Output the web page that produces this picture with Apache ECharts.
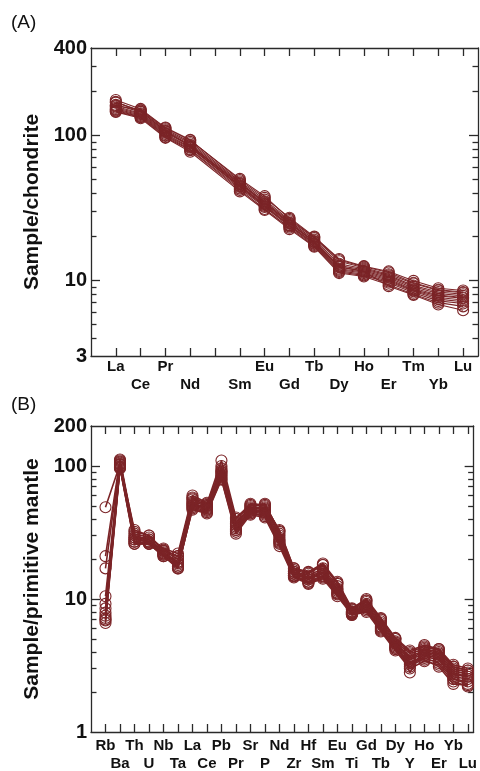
<!DOCTYPE html>
<html>
<head>
<meta charset="utf-8">
<title>REE and trace element patterns</title>
<script src="https://cdn.jsdelivr.net/npm/echarts@6/dist/echarts.min.js"></script>
<style>
  html, body { margin: 0; padding: 0; background: #fff; }
  #chart { width: 480px; height: 771px; }
</style>
</head>
<body>
<div id="chart"></div>
<script>
// (A) chondrite normalised REE, Pm has no value
const reeElements = ['La', 'Ce', 'Pr', 'Nd', '', 'Sm', 'Eu', 'Gd', 'Tb', 'Dy', 'Ho', 'Er', 'Tm', 'Yb', 'Lu'];
const reeSamples = [
  [175, 152, 113, 93, null, 49, 37, 27, 20, 14, 12.5, 11.5, 9.9, 8.8, 8.5],
  [168, 148, 110, 90, null, 48, 36, 26, 19.5, 13.5, 12.2, 11, 9.5, 8.5, 8.2],
  [162, 145, 108, 88, null, 47, 35, 25.5, 19, 13, 12, 10.8, 9.2, 8.3, 8.0],
  [158, 142, 106, 86, null, 46, 34, 25, 18.6, 12.6, 11.8, 10.6, 9.0, 8.1, 7.8],
  [155, 140, 104, 85, null, 45, 33.5, 24.5, 18.3, 12.3, 11.6, 10.4, 8.8, 7.9, 7.6],
  [152, 138, 102, 83, null, 44.5, 33, 24, 18, 12, 11.4, 10.2, 8.6, 7.8, 7.5],
  [150, 136, 100, 82, null, 44, 32.5, 23.8, 17.8, 11.8, 11.2, 10, 8.5, 7.6, 7.3],
  [148, 134, 99, 80, null, 43, 32, 23.5, 17.5, 11.6, 11, 9.8, 8.4, 7.4, 7.1],
  [146, 133, 97, 79, null, 42, 31, 23, 17.2, 11.4, 10.8, 9.6, 8.2, 7.2, 6.9],
  [145, 131, 96, 77, null, 41, 30.5, 22.5, 17, 11.2, 10.6, 9.3, 8.0, 7.0, 6.6],
  [160, 150, 112, 92, null, 50, 38, 26.5, 19.8, 13.8, 12.4, 11.3, 9.6, 8.6, 8.3],
  [170, 146, 107, 84, null, 46.5, 34.5, 24.8, 18.4, 12.4, 11.5, 9.1, 7.9, 6.8, 6.2]
];
const reeLabelTicks = [3, 10, 100, 400];
const reeMajorTicks = [10, 100];
const reeMinorTicks = [4, 5, 6, 7, 8, 9, 20, 30, 40, 50, 60, 70, 80, 90, 200, 300];

// (B) primitive mantle normalised trace elements
const traceElements = ['Rb', 'Ba', 'Th', 'U', 'Nb', 'Ta', 'La', 'Ce', 'Pb', 'Pr', 'Sr', 'P', 'Nd',
  'Zr', 'Hf', 'Sm', 'Eu', 'Ti', 'Gd', 'Tb', 'Dy', 'Y', 'Ho', 'Er', 'Yb', 'Lu'];
const traceSamples = [
  [49, 103, 33, 30, 23, 21, 58, 52, 110, 41, 51, 50, 33, 17, 16, 18.5, 13.5, 8.5, 10, 7.2, 5.1, 4.1, 4.5, 4.2, 3.2, 3.0],
  [21, 112, 31, 29, 24, 22, 60, 53, 96, 40, 50, 52, 32, 16.5, 15.5, 18, 13, 8.3, 9.8, 7.0, 5.0, 4.0, 4.4, 4.1, 3.1, 2.9],
  [17, 108, 30, 28, 23, 20, 56, 51, 93, 38, 49, 49, 31, 16, 15, 17, 12.5, 8.1, 9.5, 6.8, 4.8, 3.9, 4.2, 4.0, 3.0, 2.8],
  [10.5, 106, 29, 28, 22.5, 19, 54, 50, 90, 37, 48, 48, 30, 16, 14.5, 16.5, 12, 8.0, 9.2, 6.6, 4.7, 3.7, 4.1, 3.9, 2.9, 2.7],
  [9.2, 104, 28, 27, 22, 18.5, 52, 49, 88, 36, 47, 46, 29, 15.5, 14, 16, 11.8, 7.9, 9.0, 6.4, 4.6, 3.6, 4.0, 3.8, 2.8, 2.6],
  [8.5, 102, 28, 27, 22, 18, 51, 48, 86, 35, 46, 45, 28, 15.5, 14, 15.5, 11.5, 7.8, 8.8, 6.2, 4.5, 3.5, 3.9, 3.7, 2.7, 2.6],
  [7.9, 100, 27, 26.5, 21.5, 17.5, 50, 47, 84, 34, 45, 44, 27, 15, 13.5, 15, 11.2, 7.8, 8.6, 6.0, 4.4, 3.3, 3.8, 3.6, 2.6, 2.5],
  [7.5, 99, 27, 26, 21.5, 17, 49, 46, 82, 33, 44, 43, 26.5, 15, 13.5, 14.8, 11, 7.7, 8.4, 5.9, 4.3, 3.2, 3.7, 3.5, 2.5, 2.4],
  [7.2, 98, 26, 26, 21, 17, 48, 45, 80, 32, 44, 42, 26, 14.8, 13.2, 14.5, 10.8, 7.6, 8.2, 5.8, 4.2, 3.1, 3.6, 3.3, 2.5, 2.3],
  [6.9, 97, 26, 26, 21, 17.5, 47, 44, 79, 31, 43, 41, 25, 14.5, 13, 14.2, 10.5, 7.6, 8.0, 5.7, 4.1, 3.0, 3.4, 3.2, 2.4, 2.2],
  [6.6, 96, 32, 30, 23.5, 21, 57, 50, 100, 40, 52, 51, 32.5, 17, 15.8, 18, 13.2, 8.4, 9.7, 7.1, 5.0, 2.8, 4.3, 4.2, 3.1, 2.9],
  [7.0, 110, 29, 27, 22, 19, 53, 47, 91, 33, 46, 47, 27.5, 15.5, 14.5, 15.8, 11, 8.0, 8.7, 6.1, 4.3, 3.4, 3.5, 3.1, 2.3, 2.25]
];
const traceLabelTicks = [1, 10, 100, 200];
const traceMajorTicks = [10, 100];
const traceMinorTicks = [2, 3, 4, 5, 6, 7, 8, 9, 20, 30, 40, 50, 60, 70, 80, 90];

const red = '#7b2427';
const ink = '#111';
const frame = { color: '#2a2a2a', width: 1.3 };
const fontFamily = 'Liberation Sans, Arial, Helvetica, sans-serif';
const lg = Math.log10;

// bottom axis (even labels), second bottom row (odd labels), top axis
function xAxes(grid, names, xMax, margin) {
  const idx = names.map((n, i) => i);
  const range = { gridIndex: grid, type: 'value', min: -1, max: xMax, splitLine: { show: false } };
  const labelStyle = {
    formatter: v => names[Math.round(v)],
    showMinLabel: true, showMaxLabel: true,
    fontSize: 15, fontWeight: 'bold', fontFamily: fontFamily, color: ink
  };
  const withTicks = {
    axisLine: { show: true, onZero: false, lineStyle: frame },
    axisTick: { show: true, inside: true, length: 8, customValues: idx, lineStyle: frame }
  };
  return [
    Object.assign({}, range, withTicks, {
      position: 'bottom',
      axisLabel: Object.assign({}, labelStyle, {
        customValues: idx.filter(i => i % 2 === 0 && names[i]), margin: margin
      })
    }),
    Object.assign({}, range, {
      position: 'bottom',
      axisLine: { show: false, onZero: false },
      axisTick: { show: false },
      axisLabel: Object.assign({}, labelStyle, {
        customValues: idx.filter(i => i % 2 === 1), margin: margin + 18
      })
    }),
    Object.assign({}, range, withTicks, { position: 'top', axisLabel: { show: false } })
  ];
}

// hidden log axis for the data, then tick axes laid over it in log10 space
function yAxes(grid, min, max, labels, major, minor, name) {
  const range = { gridIndex: grid, type: 'value', min: lg(min), max: lg(max), splitLine: { show: false } };
  const tickAxis = (pos, values, len, line) => Object.assign({}, range, {
    position: pos,
    axisLine: { show: line, onZero: false, lineStyle: frame },
    axisTick: { show: true, inside: true, length: len, customValues: values.map(lg), lineStyle: frame },
    axisLabel: { show: false }
  });
  const left = tickAxis('left', major, 9, true);
  left.axisLabel = {
    customValues: labels.map(lg),
    formatter: v => String(Math.round(Math.pow(10, v))),
    showMinLabel: true, showMaxLabel: true,
    margin: 4, fontSize: 20, fontWeight: 'bold', fontFamily: fontFamily, color: ink
  };
  left.name = name;
  left.nameLocation = 'middle';
  left.nameGap = 46;
  left.nameTextStyle = { fontSize: 21, fontWeight: 'bold', fontFamily: fontFamily, color: ink };
  return [
    { gridIndex: grid, type: 'log', min: min, max: max, show: false },
    left,
    tickAxis('left', minor, 5.5, false),
    tickAxis('right', major, 9, true),
    tickAxis('right', minor, 5.5, false)
  ];
}

function sampleSeries(rows, xIndex, yIndex, width) {
  return rows.map(row => ({
    type: 'line',
    xAxisIndex: xIndex,
    yAxisIndex: yIndex,
    data: row.map((v, i) => [i, v]).filter(p => p[1] != null),
    symbol: 'circle',
    symbolSize: 11,
    lineStyle: { color: red, width: width },
    itemStyle: { color: 'rgba(0,0,0,0)', borderColor: red, borderWidth: 1.1 },
    silent: true,
    animation: false
  }));
}

const chart = echarts.init(document.getElementById('chart'), null, { renderer: 'canvas' });
chart.setOption({
  backgroundColor: '#fff',
  animation: false,
  grid: [
    { left: 91, right: 2, top: 48, bottom: 415 },
    { left: 91, right: 2, top: 426, bottom: 39 }
  ],
  xAxis: xAxes(0, reeElements, 14.6, 3).concat(xAxes(1, traceElements, 25.4, 6)),
  yAxis: yAxes(0, 3, 400, reeLabelTicks, reeMajorTicks, reeMinorTicks, 'Sample/chondrite')
    .concat(yAxes(1, 1, 200, traceLabelTicks, traceMajorTicks, traceMinorTicks, 'Sample/primitive mantle')),
  graphic: [
    { type: 'text', left: 11, top: 13, style: { text: '(A)', fontSize: 19, fontFamily: fontFamily, fill: ink } },
    { type: 'text', left: 11, top: 395, style: { text: '(B)', fontSize: 19, fontFamily: fontFamily, fill: ink } }
  ],
  series: sampleSeries(reeSamples, 0, 0, 1.1).concat(sampleSeries(traceSamples, 3, 5, 1.6))
});
</script>
</body>
</html>
